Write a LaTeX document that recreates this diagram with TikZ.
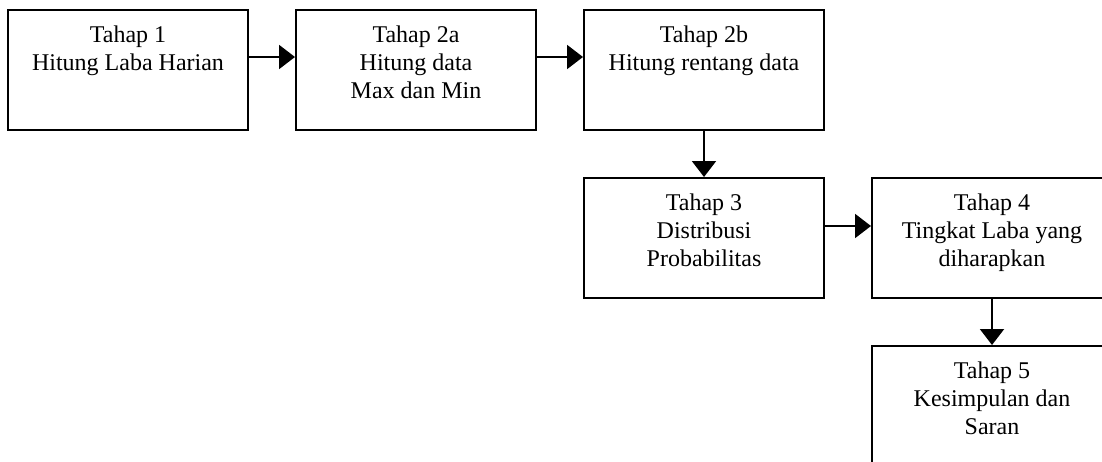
\documentclass[tikz,border=0pt]{standalone}
\usepackage{fontspec}
\setmainfont{Liberation Serif}
\usetikzlibrary{arrows.meta}
\tikzset{
  box/.style={draw=black, line width=2pt, minimum width=240pt, minimum height=120pt, inner sep=0pt, fill=white},
  lbl/.style={anchor=north, align=center, inner sep=0pt, font=\fontsize{24}{28}\selectfont},
  arr/.style={line width=2pt, -{Triangle[length=16pt,width=24pt]}}
}
\begin{document}
\begin{tikzpicture}[x=1pt,y=-1pt]
\useasboundingbox (0,0) rectangle (1102,461);
\clip (0,0) rectangle (1102,461);
\fill[white] (0,0) rectangle (1102,461);
\node[box] (b1) at (128,70) {};
\node[box] (b2) at (416,70) {};
\node[box] (b3) at (704,70) {};
\node[box] (b4) at (704,238) {};
\node[box] (b5) at (992,238) {};
\node[box] (b6) at (992,406) {};
\node[lbl] (t1) at ([yshift=-16.5pt]b1.north) {Tahap 1\\Hitung Laba Harian};
\node[lbl] (t2) at ([yshift=-16.5pt]b2.north) {Tahap 2a\\Hitung data\\Max dan Min};
\node[lbl] (t3) at ([yshift=-16.5pt]b3.north) {Tahap 2b\\Hitung rentang data};
\node[lbl] (t4) at ([yshift=-16.5pt]b4.north) {Tahap 3\\Distribusi\\Probabilitas};
\node[lbl] (t5) at ([yshift=-16.5pt]b5.north) {Tahap 4\\Tingkat Laba yang\\diharapkan};
\node[lbl] (t6) at ([yshift=-16.5pt]b6.north) {Tahap 5\\Kesimpulan dan\\Saran};
\draw[arr] ([yshift=-48pt]b1.north east) -- ([yshift=-48pt]b2.north west);
\draw[arr] ([yshift=-48pt]b2.north east) -- ([yshift=-48pt]b3.north west);
\draw[arr] (b3.south) -- (b4.north);
\draw[arr] ([yshift=-49pt]b4.north east) -- ([yshift=-49pt]b5.north west);
\draw[arr] (b5.south) -- (b6.north);
\end{tikzpicture}
\end{document}
